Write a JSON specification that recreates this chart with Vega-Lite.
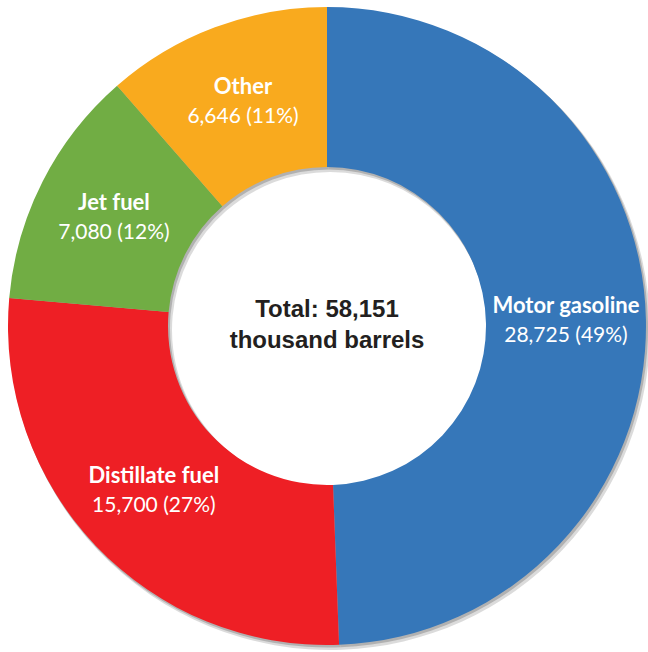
{
  "$schema": "https://vega.github.io/schema/vega-lite/v6.json",
  "width": 648,
  "height": 652,
  "autosize": {"type": "fit", "contains": "padding"},
  "padding": {"left": 6, "right": 0, "top": 1, "bottom": 1},
  "background": "white",
  "data": {
    "values": [
      {"fuel": "Motor gasoline", "value": 28725, "display": "28,725 (49%)"},
      {"fuel": "Distillate fuel", "value": 15700, "display": "15,700 (27%)"},
      {"fuel": "Jet fuel", "value": 7080, "display": "7,080 (12%)"},
      {"fuel": "Other", "value": 6646, "display": "6,646 (11%)"}
    ]
  },
  "encoding": {
    "theta": {"field": "value", "type": "quantitative", "stack": true},
    "order": {"field": "value", "sort": "descending"}
  },
  "layer": [
    {
      "mark": {"type": "arc", "outerRadius": 320, "innerRadius": 158, "color": "#999999", "opacity": 0.35, "xOffset": 3, "yOffset": 4}
    },
    {
      "mark": {"type": "arc", "outerRadius": 319.5, "innerRadius": 158.5, "color": "#888888", "opacity": 0.5, "xOffset": 1.5, "yOffset": 2}
    },
    {
      "mark": {"type": "arc", "outerRadius": 319, "innerRadius": 159},
      "encoding": {
        "color": {
          "field": "fuel",
          "type": "nominal",
          "scale": {
            "domain": ["Motor gasoline", "Distillate fuel", "Jet fuel", "Other"],
            "range": ["#3677b9", "#ee1f25", "#71ad44", "#f9aa1e"]
          },
          "legend": null
        }
      }
    },
    {
      "mark": {"type": "text", "radius": 239, "dy": -15, "font": "Lato", "fontWeight": "bold", "fontSize": 22, "color": "white", "baseline": "middle", "align": "center"},
      "encoding": {"text": {"field": "fuel"}}
    },
    {
      "mark": {"type": "text", "radius": 239, "dy": 15, "font": "Lato", "fontSize": 21, "color": "white", "baseline": "middle", "align": "center"},
      "encoding": {"text": {"field": "display"}}
    },
    {
      "data": {"values": [{"line": "Total: 58,151\nthousand barrels"}]},
      "mark": {"type": "text", "font": "Liberation Sans", "fontWeight": "bold", "fontSize": 24, "color": "#231f20", "baseline": "middle", "align": "center", "lineBreak": "\n", "lineHeight": 31, "dy": -16},
      "encoding": {"text": {"field": "line"}, "theta": null, "order": null}
    }
  ],
  "config": {"view": {"stroke": null}}
}
